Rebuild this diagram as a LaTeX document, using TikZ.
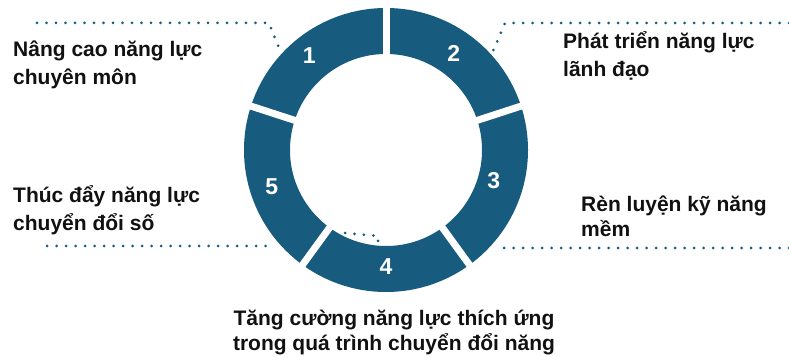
\documentclass[tikz,border=0pt]{standalone}
\usepackage{fontspec}
\setmainfont{Liberation Sans}
\usetikzlibrary{calc}
\definecolor{ringc}{RGB}{23,91,126}
\definecolor{txtc}{RGB}{17,17,17}
\tikzset{
  lbl/.style={font=\fontsize{21}{26}\selectfont\bfseries, text=txtc, inner sep=0pt, anchor=base west},
  num/.style={font=\fontsize{23}{26}\selectfont\bfseries, text=white, inner sep=0pt},
  dotline/.style={draw=ringc, line width=3pt, line cap=round, dash pattern=on 0pt off 9.5pt},
  gapline/.style={draw=white, line width=7pt},
}
\begin{document}
\begin{tikzpicture}[x=1pt,y=1pt]
\useasboundingbox (0,0) rectangle (789,356);
\coordinate (c) at (386,206);
% ring
\node[circle, draw=ringc, line width=46pt, minimum size=238pt, inner sep=0pt] (ring) at (c) {};
\foreach \a in {90,18,-54,-126,162} \draw[gapline] (c) -- ++(\a:150);
% numbers
\node[num] (n1) at ($(c)+(129:122)$) {1};
\node[num] (n2) at ($(c)+(55:118)$) {2};
\node[num] (n3) at ($(c)+(-16:112)$) {3};
\node[num] (n4) at ($(c)+(-90:117)$) {4};
\node[num] (n5) at ($(c)+(-162:120)$) {5};
% labels
\node[lbl] (t1a) at (13,299) {Nâng cao năng lực};
\node[lbl] (t1b) at (13,271) {chuyên môn};
\node[lbl] (t2a) at (563,307) {Phát triển năng lực};
\node[lbl] (t2b) at (563,279) {lãnh đạo};
\node[lbl] (t5a) at (13,153) {Thúc đẩy năng lực};
\node[lbl] (t5b) at (13,125) {chuyển đổi số};
\node[lbl] (t3a) at (581,144) {Rèn luyện kỹ năng};
\node[lbl] (t3b) at (581,119) {mềm};
\node[lbl, anchor=base] (t4a) at (394,31) {Tăng cường năng lực thích ứng};
\node[lbl, anchor=base] (t4b) at (394,6) {trong quá trình chuyển đổi năng};
% connectors
\coordinate (d1s) at (37,333); \coordinate (d1k) at (269,333); \coordinate (d1e) at (281,303);
\coordinate (d2s) at (789,333); \coordinate (d2k) at (505,333); \coordinate (d2e) at (493,305);
\coordinate (d5s) at (47,110); \coordinate (d5e) at (268,110);
\coordinate (d3s) at (789,108); \coordinate (d3e) at (502,108);
\coordinate (d4s) at (345,123); \coordinate (d4k) at (378,120); \coordinate (d4e) at (378,110);
\draw[dotline] (d1s) -- (d1k) -- (d1e);
\draw[dotline] (d2s) -- (d2k) -- (d2e);
\draw[dotline] (d5s) -- (d5e);
\draw[dotline] (d3s) -- (d3e);
\draw[dotline] (d4s) -- (d4k) -- (d4e);
\end{tikzpicture}
\end{document}
